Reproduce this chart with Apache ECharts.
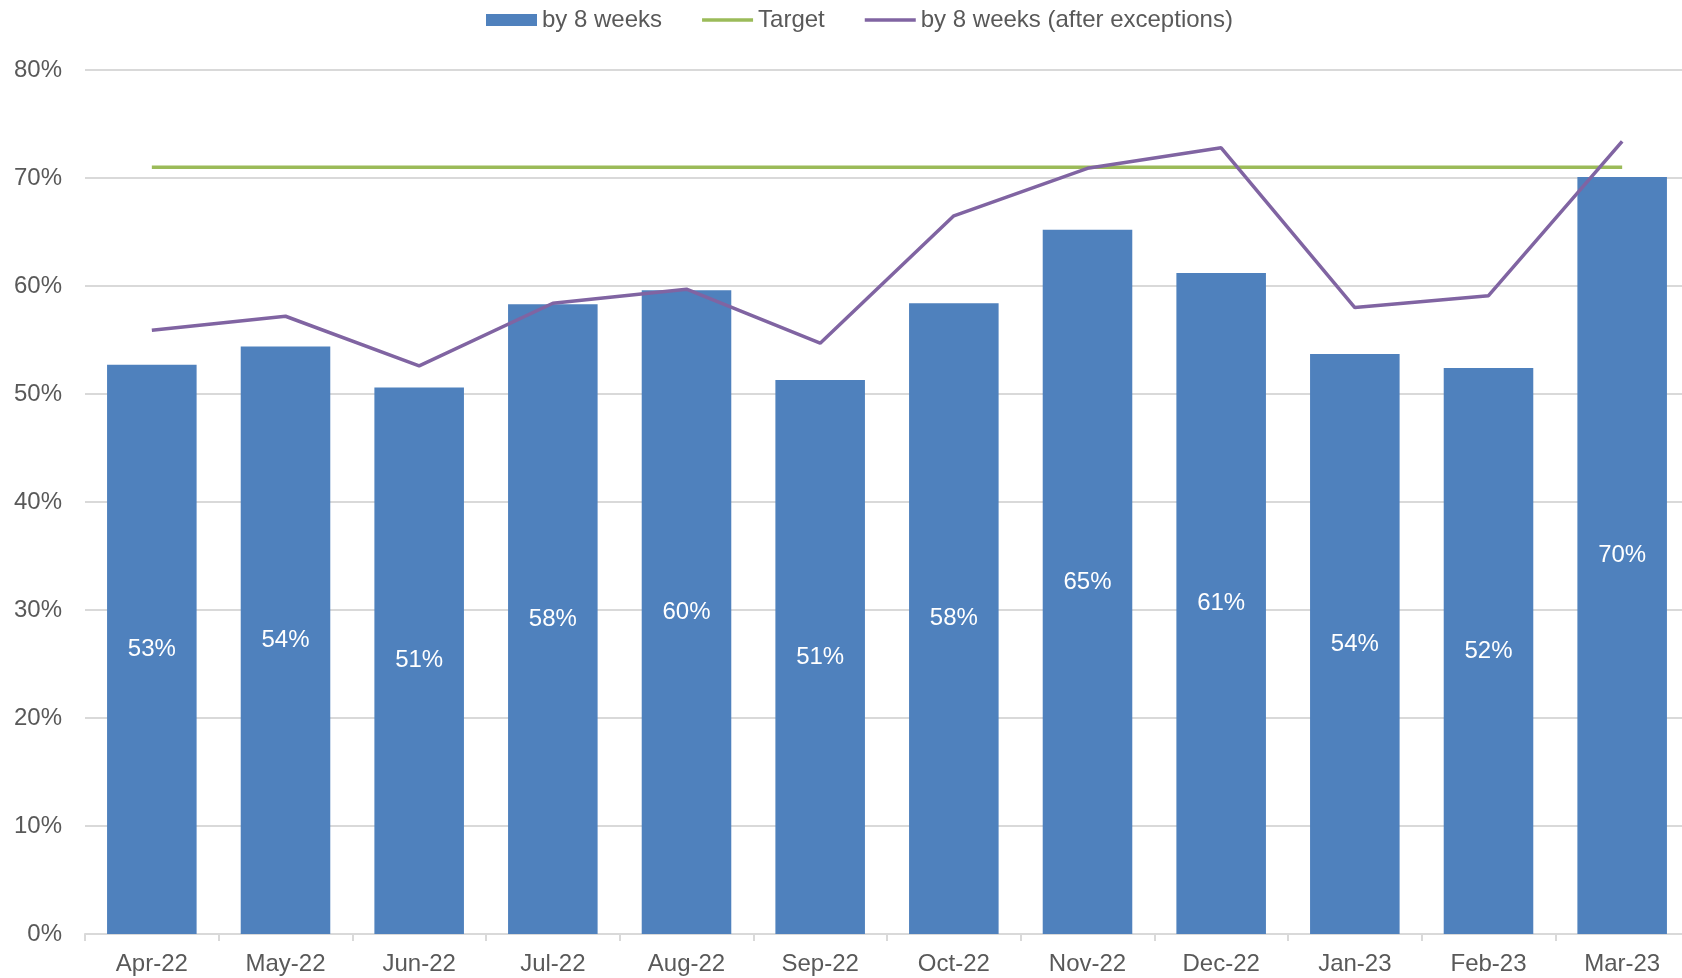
<!DOCTYPE html>
<html>
<head>
<meta charset="utf-8">
<script src="https://cdn.jsdelivr.net/npm/echarts@6/dist/echarts.min.js"></script>
<style>
  html, body { margin: 0; padding: 0; background: #fff; overflow: hidden; }
  #chart { width: 1700px; height: 978px; }
</style>
</head>
<body>
<div id="chart"></div>
<script>
var months = ['Apr-22', 'May-22', 'Jun-22', 'Jul-22', 'Aug-22', 'Sep-22',
              'Oct-22', 'Nov-22', 'Dec-22', 'Jan-23', 'Feb-23', 'Mar-23'];
// by 8 weeks (bars)
var by8Weeks = [52.7, 54.4, 50.6, 58.3, 59.6, 51.3, 58.4, 65.2, 61.2, 53.7, 52.4, 70.1];
// target line
var target = [71, 71, 71, 71, 71, 71, 71, 71, 71, 71, 71, 71];
// by 8 weeks after exceptions
var afterExceptions = [55.9, 57.2, 52.6, 58.4, 59.7, 54.7, 66.5, 70.9, 72.8, 58.0, 59.1, 73.4];

var textGrey = '#595959';
var font = 'Liberation Sans, Arial, sans-serif';
var lineIcon = 'path://M0,0 L51,0 L51,3.5 L0,3.5 Z';

// the plot runs a little past the right edge of the 1682px window, like the original
var chart = echarts.init(document.getElementById('chart'));
var option = {
    animation: false,
    textStyle: { fontFamily: font },
    legend: {
        left: 481,
        top: 3,
        itemWidth: 51,
        itemHeight: 12,
        itemGap: 40,
        textStyle: { color: textGrey, fontSize: 24, fontFamily: font },
        data: [
            { name: 'by 8 weeks', icon: 'rect' },
            { name: 'Target', icon: lineIcon, textStyle: { padding: [0, 6, 0, 0] } },
            { name: 'by 8 weeks (after exceptions)', icon: lineIcon }
        ]
    },
    grid: { left: 85, right: 11, top: 70, bottom: 44 },
    xAxis: {
        type: 'category',
        data: months,
        boundaryGap: true,
        axisLine: { lineStyle: { color: '#d9d9d9', width: 2 } },
        axisTick: { show: true, length: 7, lineStyle: { color: '#d9d9d9', width: 2 } },
        axisLabel: { color: textGrey, fontSize: 24, margin: 18, fontFamily: font }
    },
    yAxis: {
        type: 'value',
        min: 0,
        max: 80,
        interval: 10,
        axisLine: { show: false },
        axisTick: { show: false },
        splitLine: { lineStyle: { color: '#d9d9d9', width: 2 } },
        axisLabel: { color: textGrey, fontSize: 24, margin: 23, formatter: '{value}%', fontFamily: font }
    },
    series: [
        {
            name: 'by 8 weeks',
            type: 'bar',
            data: by8Weeks,
            barCategoryGap: '33%',
            itemStyle: { color: '#4f81bd' },
            label: {
                show: true,
                position: 'inside',
                color: '#fff',
                fontSize: 24,
                fontFamily: font,
                formatter: function (p) { return Math.round(p.value) + '%'; }
            },
            z: 2
        },
        {
            name: 'Target',
            type: 'line',
            data: target,
            symbol: 'none',
            lineStyle: { color: '#9bbb59', width: 3.5 },
            itemStyle: { color: '#9bbb59' },
            z: 3
        },
        {
            name: 'by 8 weeks (after exceptions)',
            type: 'line',
            data: afterExceptions,
            symbol: 'none',
            lineStyle: { color: '#8064a2', width: 3.5 },
            itemStyle: { color: '#8064a2' },
            z: 4
        }
    ]
};
chart.setOption(option);
</script>
</body>
</html>
